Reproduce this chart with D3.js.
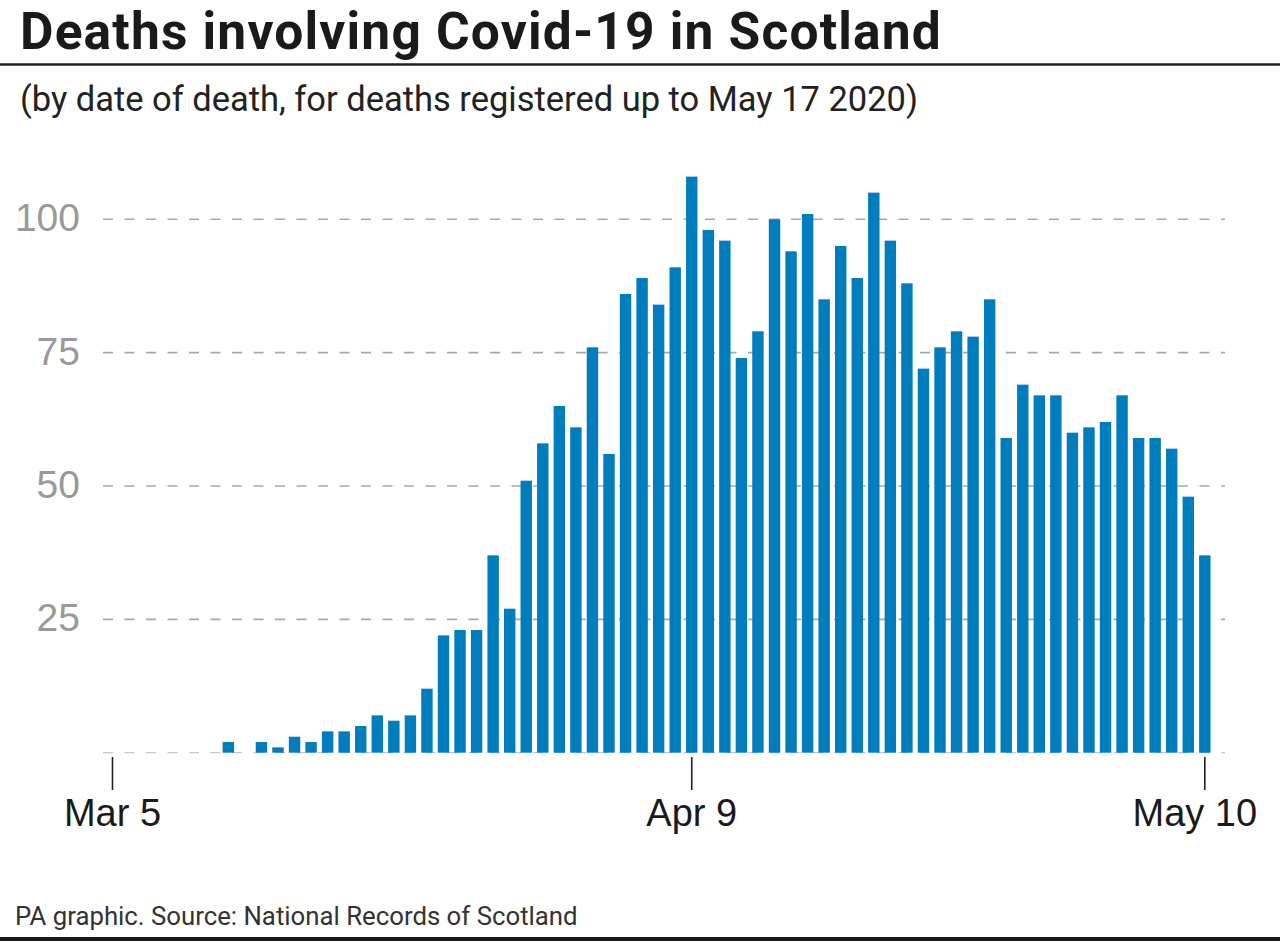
<!DOCTYPE html>
<html>
<head>
<meta charset="utf-8">
<script src="https://cdn.jsdelivr.net/npm/d3@7"></script>
<style>
  html, body { margin: 0; padding: 0; background: #fff; }
  svg { display: block; }
  text { font-family: "Liberation Sans", Arial, Helvetica, sans-serif; }
  .head { font-family: Roboto, "Liberation Sans", Arial, sans-serif; }
</style>
</head>
<body>
<svg id="chart" width="1280" height="943"></svg>
<script>
// ---- Data ----
const startDate = "2020-03-05";
const deaths = [
  0, 0, 0, 0, 0, 0, 0, 2, 0, 2,
  1, 3, 2, 4, 4, 5, 7, 6, 7, 12,
  22, 23, 23, 37, 27, 51, 58, 65, 61, 76,
  56, 86, 89, 84, 91, 108, 98, 96, 74, 79,
  100, 94, 101, 85, 95, 89, 105, 96, 88, 72,
  76, 79, 78, 85, 59, 69, 67, 67, 60, 61,
  62, 67, 59, 59, 57, 48, 37
];
const yTicks = [0, 25, 50, 75, 100];
const xTickDates = ["2020-03-05", "2020-04-09", "2020-05-10"];
const xTickLabels = ["Mar 5", "Apr 9", "May 10"];

const titleText = "Deaths involving Covid-19 in Scotland";
const subtitleText = "(by date of death, for deaths registered up to May 17 2020)";
const footerText = "PA graphic. Source: National Records of Scotland";

// ---- Build dated rows ----
const parse = d3.utcParse("%Y-%m-%d");
const fmtKey = d3.utcFormat("%Y-%m-%d");
const t0 = parse(startDate);
const rows = deaths.map((v, i) => ({ date: fmtKey(d3.utcDay.offset(t0, i)), value: v }));

const svg = d3.select("#chart");

// ---- Scales ----
const x = d3.scaleBand()
  .domain(rows.map(d => d.date))
  .range([104.2, 1213.1])
  .paddingInner(0.31)
  .paddingOuter(0.155);

const y = d3.scaleLinear().domain([0, 100]).range([752.7, 219.3]);

// ---- Helper to fit text to width ----
function fitText(sel, target, start, maxSize) {
  sel.attr("font-size", start);
  const len = sel.node().getComputedTextLength();
  let s = start * target / len;
  if (maxSize && s > maxSize) {
    s = maxSize;
    sel.attr("font-size", s);
    const len2 = sel.node().getComputedTextLength();
    const n = sel.text().length;
    sel.attr("letter-spacing", Math.max(0, (target - len2) / n));
  } else {
    sel.attr("font-size", s);
  }
}

// ---- Title / subtitle ----
const title = svg.append("text")
  .attr("class", "head")
  .attr("x", 20).attr("y", 49)
  .attr("font-weight", "bold")
  .attr("fill", "#1a1a1a")
  .text(titleText);
fitText(title, 922, 48, 51.5);

svg.append("line")
  .attr("x1", 0).attr("x2", 1280)
  .attr("y1", 64.5).attr("y2", 64.5)
  .attr("stroke", "#222").attr("stroke-width", 2.5);

const sub = svg.append("text")
  .attr("class", "head")
  .attr("x", 20).attr("y", 111)
  .attr("fill", "#222")
  .text(subtitleText);
fitText(sub, 898, 34);

// ---- Gridlines ----
const grid = svg.append("g");
grid.selectAll("line")
  .data(yTicks)
  .join("line")
  .attr("x1", 103).attr("x2", 1225)
  .attr("y1", d => y(d)).attr("y2", d => y(d))
  .attr("stroke", d => d === 0 ? "#c8c8c8" : "#a8a8a8")
  .attr("stroke-width", d => d === 0 ? 1.3 : 1.6)
  .attr("stroke-dasharray", "10,11.5");

// ---- Y labels ----
svg.append("g").selectAll("text")
  .data(yTicks.filter(d => d > 0))
  .join("text")
  .attr("x", 80)
  .attr("y", d => y(d) + 12)
  .attr("text-anchor", "end")
  .attr("font-size", 39)
  .attr("fill", "#999")
  .text(d => d);

// ---- Bars ----
svg.append("g").selectAll("rect")
  .data(rows.filter(d => d.value > 0))
  .join("rect")
  .attr("x", d => x(d.date))
  .attr("width", x.bandwidth())
  .attr("y", d => y(d.value))
  .attr("height", d => y(0) - y(d.value))
  .attr("fill", "#007dbd");

// ---- X axis ----
const xAxis = d3.axisBottom(x)
  .tickValues(xTickDates)
  .tickFormat((d, i) => xTickLabels[i])
  .tickSize(33)
  .tickSizeOuter(0)
  .tickPadding(4);

const gx = svg.append("g")
  .attr("transform", "translate(0,757)")
  .call(xAxis);
gx.select(".domain").remove();
gx.selectAll(".tick line").attr("stroke", "#222").attr("stroke-width", 1.6);
gx.selectAll(".tick text")
  .attr("font-size", 38)
  .attr("fill", "#1a1a1a")
  .attr("font-family", "'Liberation Sans', Arial, sans-serif")
  .attr("dy", null)
  .attr("y", 69);
gx.selectAll(".tick text").filter((d, i) => i === xTickDates.length - 1)
  .attr("x", -10);

// ---- Footer ----
const foot = svg.append("text")
  .attr("class", "head")
  .attr("x", 15).attr("y", 925)
  .attr("fill", "#333")
  .text(footerText);
fitText(foot, 563, 25);

svg.append("line")
  .attr("x1", 0).attr("x2", 1280)
  .attr("y1", 939).attr("y2", 939)
  .attr("stroke", "#1a1a1a").attr("stroke-width", 4);
</script>
</body>
</html>
